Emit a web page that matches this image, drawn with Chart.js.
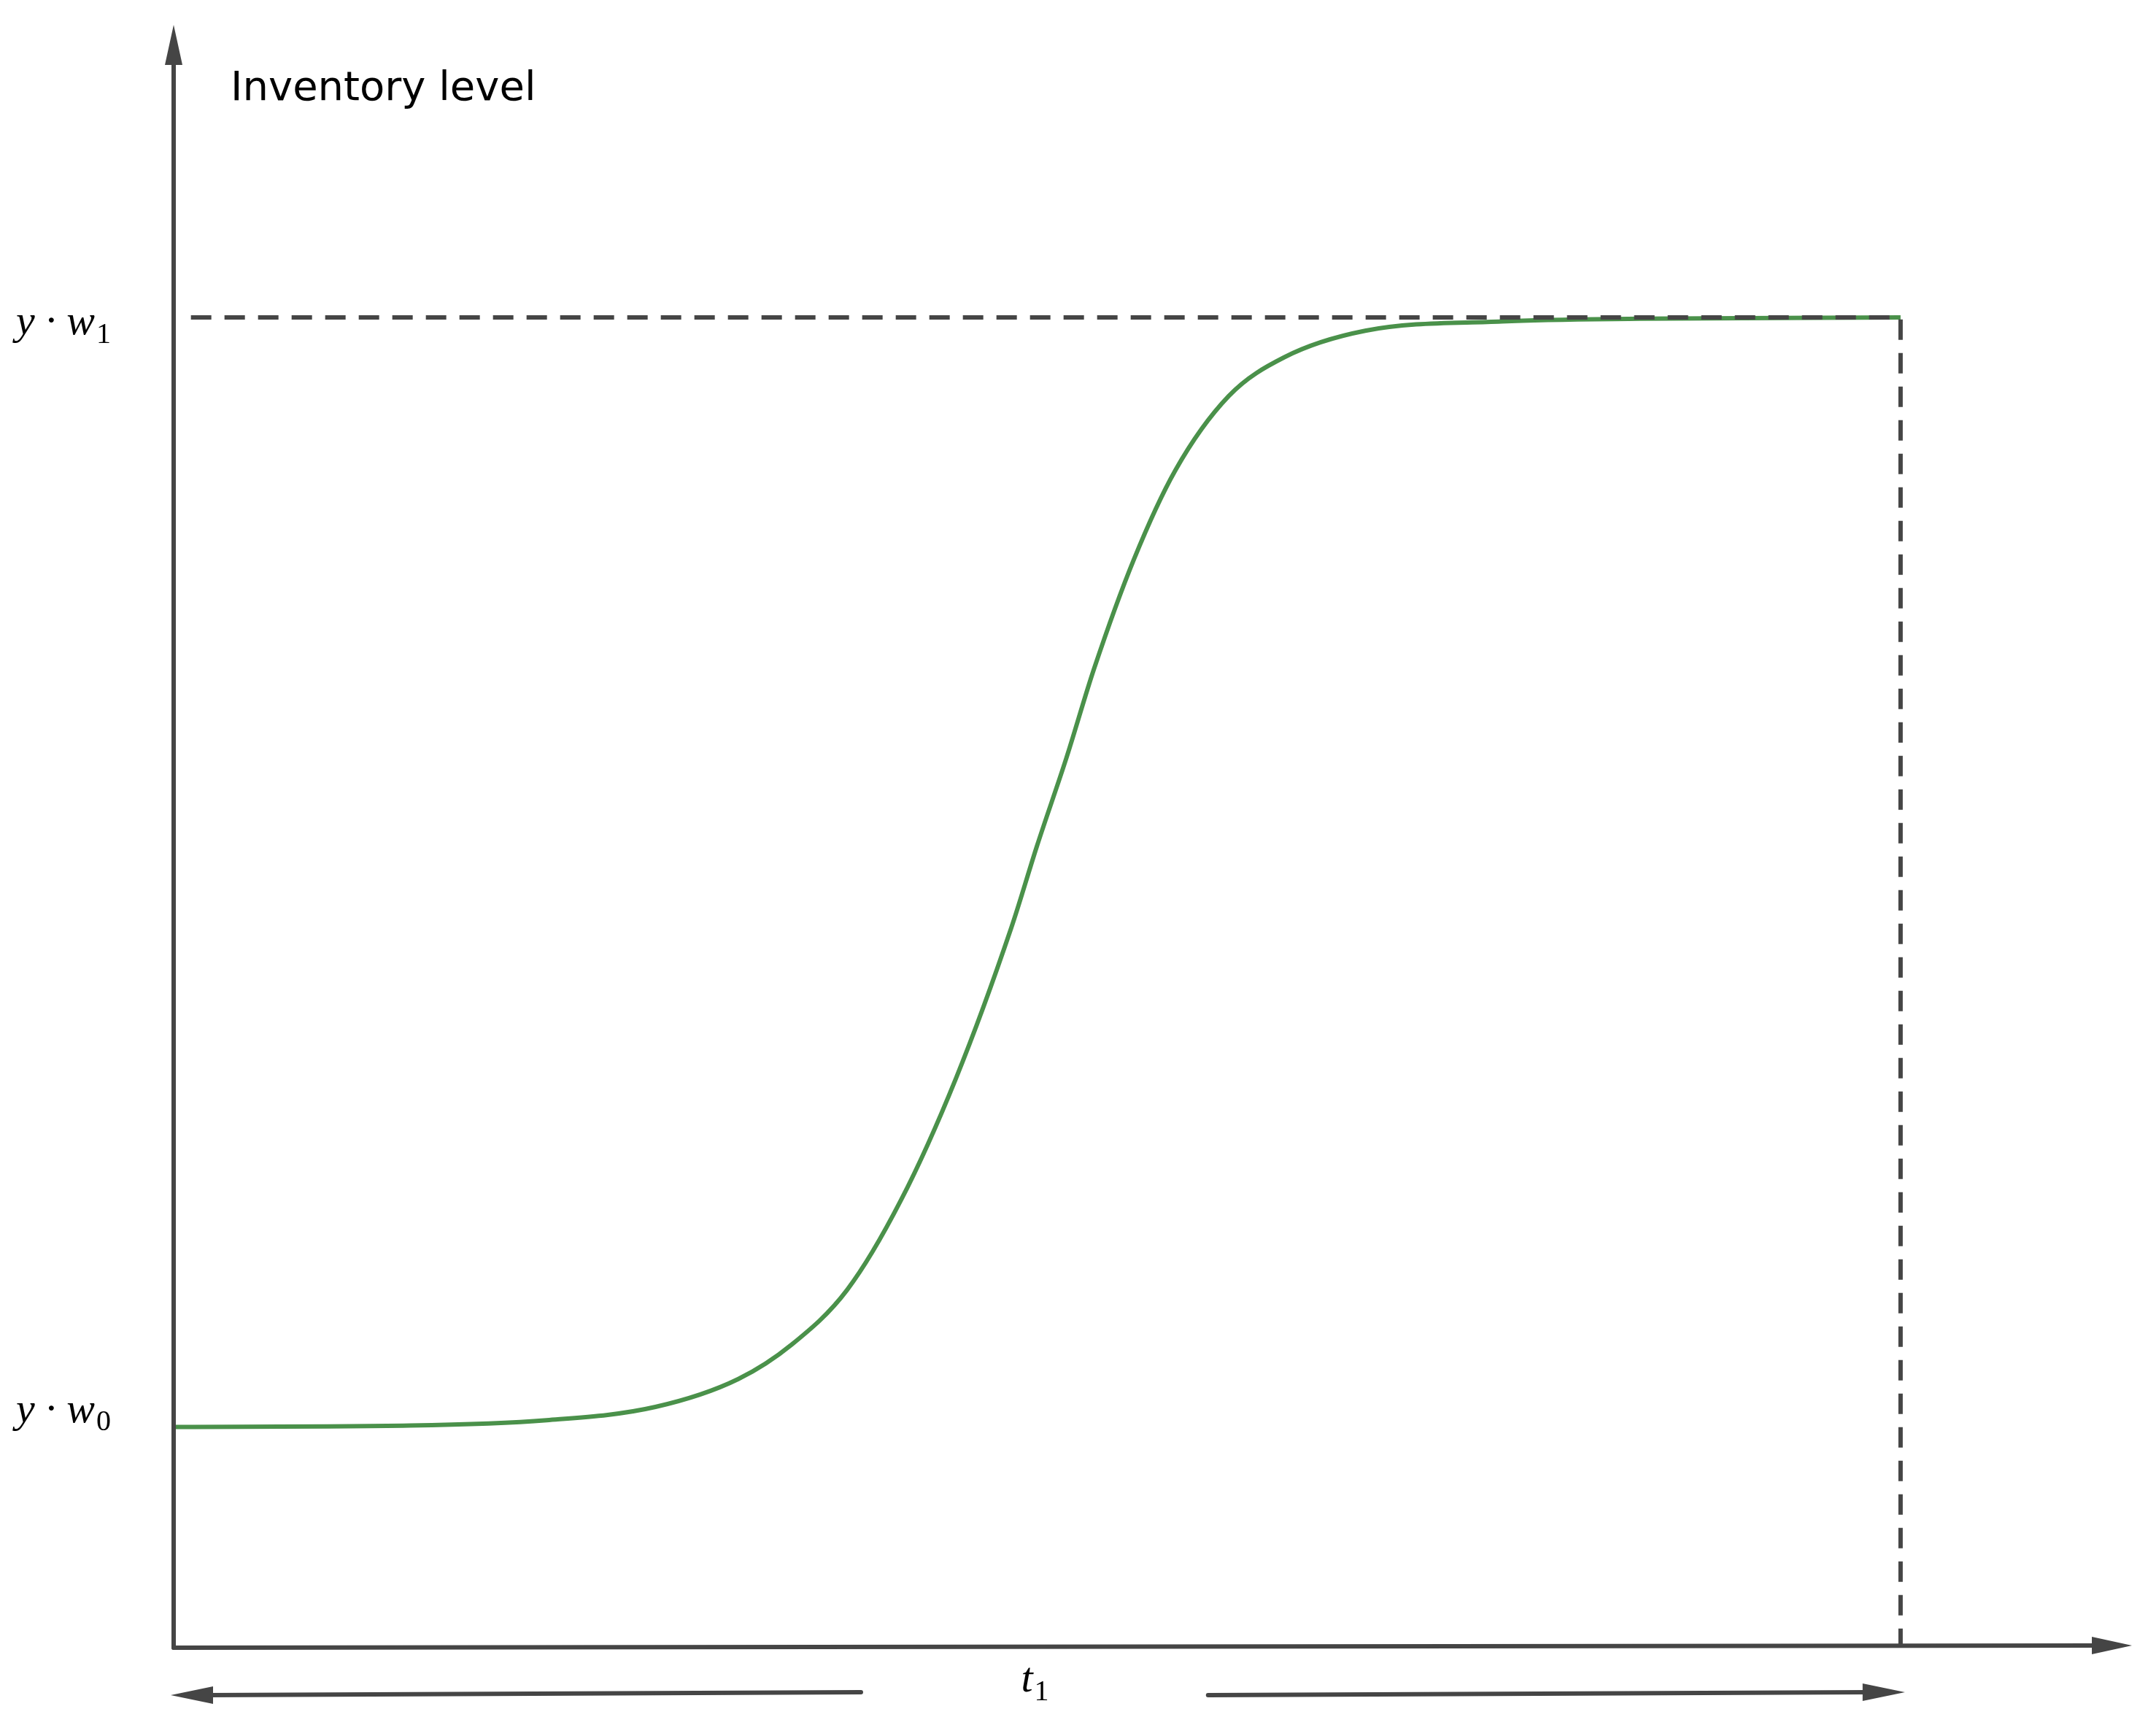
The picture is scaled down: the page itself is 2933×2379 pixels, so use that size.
<!DOCTYPE html>
<html><head><meta charset="utf-8">
<script src="https://cdn.jsdelivr.net/npm/chart.js@4"></script>
<style>html,body{margin:0;padding:0;background:#fff}#c{display:block}</style>
</head><body>
<canvas id="c" width="2933" height="2379"></canvas>
<script>
// time in % of the horizon (0..100), inventory level in % of y*w1
const timeValues = [0, 13.7, 21.6, 27.9, 32.7, 35.8, 39.0, 42.1, 45.3, 48.5, 50.0, 51.7, 53.3, 55.6, 58.0, 61.1, 64.3, 69.0, 76.9, 84.9, 100];
const levelValues = [16.6, 16.7, 17.1, 18.1, 20.2, 22.8, 26.9, 33.6, 42.8, 54.1, 60.3, 66.9, 73.6, 81.8, 88.5, 94.1, 97.0, 99.0, 99.7, 99.9, 100];
const w0Level = 16.6;
const w1Level = 100;
const horizonEnd = 100;
const t1Value = 50;
const xAxisMax = 113.4;
const yAxisMax = 122;

const grey = '#454545';
const green = '#4a914a';

const curve = timeValues.map((t, i) => ({x: t, y: levelValues[i]}));

const axesPlugin = {
  id: 'axes',
  afterDatasetsDraw(chart) {
    const {ctx, scales: {x, y}} = chart;
    const x0 = x.getPixelForValue(0), y0 = y.getPixelForValue(0);
    const xEnd = x.getPixelForValue(xAxisMax), yTop = y.getPixelForValue(yAxisMax);
    ctx.save();
    ctx.strokeStyle = grey; ctx.fillStyle = grey; ctx.lineWidth = 6; ctx.lineCap = 'round';
    // y axis
    ctx.beginPath(); ctx.moveTo(x0, y0); ctx.lineTo(x0, yTop + 50); ctx.stroke();
    ctx.beginPath(); ctx.moveTo(x0, yTop); ctx.lineTo(x0 - 12, yTop + 55); ctx.lineTo(x0 + 12, yTop + 55); ctx.closePath(); ctx.fill();
    // x axis
    ctx.beginPath(); ctx.moveTo(x0, y0); ctx.lineTo(xEnd - 50, y0 - 3); ctx.stroke();
    ctx.beginPath(); ctx.moveTo(xEnd, y0 - 3); ctx.lineTo(xEnd - 55, y0 - 15); ctx.lineTo(xEnd - 55, y0 + 9); ctx.closePath(); ctx.fill();
    // bottom duration arrows
    const ay = y0 + 65;
    const aL = x.getPixelForValue(0) - 4, aR = x.getPixelForValue(horizonEnd) + 6;
    const gapL = x.getPixelForValue(39.8), gapR = x.getPixelForValue(59.9);
    ctx.beginPath(); ctx.moveTo(gapL, ay - 4); ctx.lineTo(aL + 50, ay); ctx.stroke();
    ctx.beginPath(); ctx.moveTo(aL, ay); ctx.lineTo(aL + 58, ay - 12); ctx.lineTo(aL + 58, ay + 12); ctx.closePath(); ctx.fill();
    ctx.beginPath(); ctx.moveTo(gapR, ay); ctx.lineTo(aR - 50, ay - 4); ctx.stroke();
    ctx.beginPath(); ctx.moveTo(aR, ay - 4); ctx.lineTo(aR - 58, ay - 16); ctx.lineTo(aR - 58, ay + 8); ctx.closePath(); ctx.fill();
    // labels
    ctx.fillStyle = '#000';
    ctx.font = '56px "DejaVu Sans"';
    ctx.textBaseline = 'middle'; ctx.textAlign = 'left';
    ctx.fillText('Inventory level', x0 + 78, yTop + 88);
    ctx.font = 'italic 58px "Liberation Serif"';
    const lab = (txt, sub, px, py) => {
      ctx.font = 'italic 58px "Liberation Serif"';
      ctx.fillText(txt, px, py);
      const w = ctx.measureText(txt).width;
      ctx.font = '40px "Liberation Serif"';
      ctx.fillText(sub, px + w + 2, py + 16);
    };
    lab('y · w', '1', 22, y.getPixelForValue(w1Level) + 8);
    lab('y · w', '0', 22, y.getPixelForValue(w0Level) - 22);
    lab('t', '1', x.getPixelForValue(t1Value) - 22, y0 + 45);
    ctx.restore();
  }
};

new Chart(document.getElementById('c'), {
  type: 'scatter',
  data: {
    datasets: [
      {data: curve, showLine: true, borderColor: green, borderWidth: 6, pointRadius: 0, tension: 0.4, cubicInterpolationMode: 'monotone', order: 2},
      {data: [{x: 1.0, y: w1Level}, {x: horizonEnd, y: w1Level}, {x: horizonEnd, y: 0}], showLine: true, borderColor: grey, borderWidth: 6, borderDash: [28, 18], pointRadius: 0, order: 1}
    ]
  },
  options: {
    responsive: false, animation: false,
    layout: {padding: {left: 238, right: 11, top: 34, bottom: 121}},
    plugins: {legend: {display: false}, tooltip: {enabled: false}},
    scales: {
      x: {type: 'linear', min: 0, max: xAxisMax, display: false},
      y: {type: 'linear', min: 0, max: yAxisMax, display: false}
    }
  },
  plugins: [axesPlugin]
});
</script>
</body></html>
